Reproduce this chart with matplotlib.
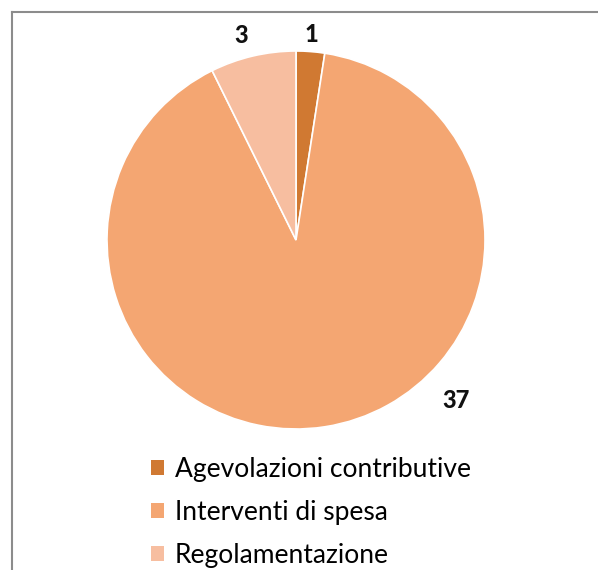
import matplotlib.pyplot as plt
import numpy as np
from matplotlib.lines import Line2D
from matplotlib.patches import Patch

categories = ['Agevolazioni contributive', 'Interventi di spesa', 'Regolamentazione']
values = [1, 37, 3]
colors = ['#D07932', '#F4A672', '#F7BEA0']
label_angles = [None, -45, 105]  # best-fit placement like the original

W, H = 598, 570
fig = plt.figure(figsize=(W / 100, H / 100), dpi=100)

# pie: centre (296, 240) from top, radius ~189 px
cx, cy, R, half = 296, H - 240, 189, 200
ax = fig.add_axes([(cx - half) / W, (cy - half) / H, 2 * half / W, 2 * half / H])
wedges, _ = ax.pie(values, colors=colors, startangle=90, counterclock=False,
                   wedgeprops=dict(edgecolor='white', linewidth=1.2))
lim = half / R
ax.set_xlim(-lim, lim)
ax.set_ylim(-lim, lim)
ax.set_aspect('equal')
ax.axis('off')

label_r = [1.09, 1.2, 1.12]
for w, v, a, r in zip(wedges, values, label_angles, label_r):
    ang = (w.theta1 + w.theta2) / 2 if a is None else a
    ax.text(r * np.cos(np.radians(ang)), r * np.sin(np.radians(ang)), str(v),
            ha='center', va='center', fontsize=17, fontweight='black',
            family='Lato', color='#111111')

handles = [Patch(facecolor=c, edgecolor='none') for c in colors]
fig.legend(handles, categories, loc='upper left', bbox_to_anchor=(151 / W, 1 - 457 / H),
           frameon=False, borderpad=0, borderaxespad=0,
           handlelength=0.5, handleheight=0.5, handletextpad=0.4, labelspacing=0.68,
           prop={'family': 'Lato', 'size': 19})

# chart frame (only top and left edges visible)
fig.add_artist(Line2D([12 / W, 12 / W], [0, 1 - 12 / H], color='#8C8C8C', lw=1.5))
fig.add_artist(Line2D([12 / W, 1], [1 - 12 / H, 1 - 12 / H], color='#8C8C8C', lw=1.5))

fig.savefig('out.png', dpi=100, facecolor='white')
